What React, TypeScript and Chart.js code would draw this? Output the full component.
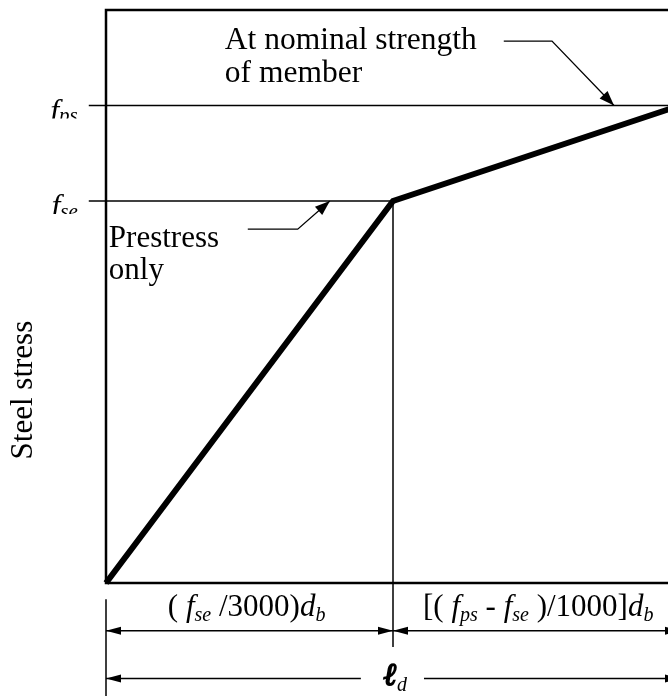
import React, { useEffect, useRef } from "react";
import { Chart, registerables } from "chart.js";

Chart.register(...registerables);

// ---- data (diagram units: x = embedment length share, y = steel stress) ----
const X_MAX = 100;
const Y_MAX = 120;
const F_SE = 80;
const F_PS = 100;
const STRESS_X = [0, 50, 100];
const STRESS_Y = [0, F_SE, F_PS];
const TICK_FROM = -3;
const Y_TICKS = [
  { value: F_PS, main: "f", sub: "ps" },
  { value: F_SE, main: "f", sub: "se" },
];
const DIM_ROW_1 = -10;
const DIM_ROW_2 = -20;
const EXT_LEFT = [-3.4, -25];
const EXT_MID_BOTTOM = -13.4;
const LD_GAP = [44.4, 55.4];
const NOTE_TOP_PATH_X = [69.3, 77.7, 88.5];
const NOTE_TOP_PATH_Y = [113.5, 113.5, F_PS];
const NOTE_LOW_PATH_X = [24.7, 33.4, 39.0];
const NOTE_LOW_PATH_Y = [74.1, 74.1, F_SE];
const NOTE_TOP_LINES = ["At nominal strength", "of member"];
const NOTE_TOP_POS = [20.7, 111.8];
const NOTE_LOW_LINES = ["Prestress", "only"];
const NOTE_LOW_POS = [0.5, 70.4];
const Y_TITLE = "Steel stress";
const Y_TITLE_POS = [-14.3, 40.4];
const DIM_LABEL_1_POS = [24.5, -6.9];
const DIM_LABEL_2_POS = [75.3, -6.9];
const LD_LABEL_POS = [50.4, -21.4];

const SERIF = '"Liberation Serif", "Times New Roman", serif';

type Seg = { t: string; i?: boolean; s?: boolean; b?: boolean };

const DIM_LABEL_1: Seg[] = [
  { t: "( " },
  { t: "f", i: true },
  { t: "se", i: true, s: true },
  { t: " /3000)" },
  { t: "d", i: true },
  { t: "b", i: true, s: true },
];
const DIM_LABEL_2: Seg[] = [
  { t: "[( " },
  { t: "f", i: true },
  { t: "ps", i: true, s: true },
  { t: " - " },
  { t: "f", i: true },
  { t: "se", i: true, s: true },
  { t: " )/1000]" },
  { t: "d", i: true },
  { t: "b", i: true, s: true },
];
const LD_LABEL: Seg[] = [
  { t: "\u2113", b: true, i: true },
  { t: "d", i: true, s: true },
];

const pts = (xs: number[], ys: number[]) => xs.map((x, k) => ({ x, y: ys[k] }));

function segFont(seg: Seg, size: number) {
  const sz = seg.s ? Math.round(size * 0.65) : size;
  return `${seg.i ? "italic " : ""}${seg.b ? "bold " : ""}${sz}px ${SERIF}`;
}

function drawRich(
  ctx: CanvasRenderingContext2D,
  segs: Seg[],
  x: number,
  y: number,
  size: number,
  align: "left" | "center" | "right",
  subShift = 0.16
) {
  ctx.textAlign = "left";
  ctx.textBaseline = "alphabetic";
  const widths = segs.map((seg) => {
    ctx.font = segFont(seg, size);
    return ctx.measureText(seg.t).width;
  });
  const total = widths.reduce((a, b) => a + b, 0);
  let cx = align === "center" ? x - total / 2 : align === "right" ? x - total : x;
  segs.forEach((seg, k) => {
    ctx.font = segFont(seg, size);
    const yy = y + (seg.s ? size * subShift : 0);
    ctx.fillText(seg.t, cx, yy);
    if (seg.b) {
      ctx.lineWidth = 1.6;
      ctx.strokeStyle = "#000";
      ctx.strokeText(seg.t, cx, yy);
    }
    cx += widths[k];
  });
}

function drawHead(ctx: CanvasRenderingContext2D, tx: number, ty: number, fx: number, fy: number, len: number, half: number) {
  const ang = Math.atan2(ty - fy, tx - fx);
  ctx.save();
  ctx.translate(tx, ty);
  ctx.rotate(ang);
  ctx.beginPath();
  ctx.moveTo(0, 0);
  ctx.lineTo(-len, -half);
  ctx.lineTo(-len, half);
  ctx.closePath();
  ctx.fill();
  ctx.restore();
}

// arrowheads: [tipX, tipY, fromX, fromY, length, halfWidth]
const HEADS: number[][] = [
  [0, DIM_ROW_1, 50, DIM_ROW_1, 15, 4],
  [50, DIM_ROW_1, 0, DIM_ROW_1, 15, 4],
  [50, DIM_ROW_1, 100, DIM_ROW_1, 15, 4],
  [100, DIM_ROW_1, 50, DIM_ROW_1, 15, 4],
  [0, DIM_ROW_2, 50, DIM_ROW_2, 15, 4],
  [100, DIM_ROW_2, 50, DIM_ROW_2, 15, 4],
  [NOTE_TOP_PATH_X[2], NOTE_TOP_PATH_Y[2], NOTE_TOP_PATH_X[1], NOTE_TOP_PATH_Y[1], 15, 5.5],
  [NOTE_LOW_PATH_X[2], NOTE_LOW_PATH_Y[2], NOTE_LOW_PATH_X[1], NOTE_LOW_PATH_Y[1], 15, 5.5],
];

const diagramPlugin = {
  id: "diagram",
  beforeDatasetsDraw(chart: any) {
    const { ctx, chartArea } = chart;
    ctx.save();
    ctx.strokeStyle = "#000";
    ctx.lineWidth = 2.5;
    ctx.strokeRect(chartArea.left, chartArea.top, chartArea.right - chartArea.left, chartArea.bottom - chartArea.top);
    ctx.restore();
  },
  afterDatasetsDraw(chart: any) {
    const { ctx, chartArea } = chart;
    const xs = chart.scales.x;
    const ys = chart.scales.y;
    const px = (v: number) => xs.getPixelForValue(v);
    const py = (v: number) => ys.getPixelForValue(v);
    ctx.save();
    ctx.fillStyle = "#000";

    HEADS.forEach(([tx, ty, fx, fy, len, half]) => {
      drawHead(ctx, px(tx), py(ty), px(fx), py(fy), len, half);
    });

    // y tick labels (clipped like the source)
    Y_TICKS.forEach((tk) => {
      const y = py(tk.value);
      ctx.save();
      ctx.beginPath();
      ctx.rect(0, y - 40, chartArea.left, 40 + 13);
      ctx.clip();
      drawRich(ctx, [{ t: tk.main, i: true }, { t: tk.sub, i: true, s: true }], px(TICK_FROM) - 11, y + 15, 32, "right", 0.06);
      ctx.restore();
    });

    // annotations
    ctx.font = `31.5px ${SERIF}`;
    ctx.textAlign = "left";
    ctx.textBaseline = "alphabetic";
    NOTE_TOP_LINES.forEach((ln, k) => ctx.fillText(ln, px(NOTE_TOP_POS[0]), py(NOTE_TOP_POS[1]) + k * 33));
    ctx.font = `31px ${SERIF}`;
    NOTE_LOW_LINES.forEach((ln, k) => ctx.fillText(ln, px(NOTE_LOW_POS[0]), py(NOTE_LOW_POS[1]) + k * 32));

    // dimension labels
    drawRich(ctx, DIM_LABEL_1, px(DIM_LABEL_1_POS[0]), py(DIM_LABEL_1_POS[1]), 31, "center");
    drawRich(ctx, DIM_LABEL_2, px(DIM_LABEL_2_POS[0]), py(DIM_LABEL_2_POS[1]), 31, "center");
    drawRich(ctx, LD_LABEL, px(LD_LABEL_POS[0]), py(LD_LABEL_POS[1]), 31, "center", 0.2);

    // y title
    ctx.save();
    ctx.translate(px(Y_TITLE_POS[0]), py(Y_TITLE_POS[1]));
    ctx.rotate(-Math.PI / 2);
    ctx.font = `31px ${SERIF}`;
    ctx.textAlign = "center";
    ctx.textBaseline = "middle";
    ctx.fillText(Y_TITLE, 0, 0);
    ctx.restore();

    ctx.restore();
  },
};

export default function App() {
  const ref = useRef<HTMLCanvasElement | null>(null);
  useEffect(() => {
    if (!ref.current) return;
    const thin = (data: any[], w = 1.5) => ({
      data,
      showLine: true,
      borderColor: "#000",
      borderWidth: w,
      pointRadius: 0,
      clip: false,
      spanGaps: false,
    });
    const chart = new Chart(ref.current, {
      type: "scatter",
      data: {
        datasets: [
          { ...thin(pts(STRESS_X, STRESS_Y), 6), borderJoinStyle: "miter" },
          thin([{ x: TICK_FROM, y: F_PS }, { x: X_MAX, y: F_PS }]),
          thin([{ x: TICK_FROM, y: F_SE }, { x: STRESS_X[1], y: F_SE }]),
          thin([{ x: STRESS_X[1], y: F_SE }, { x: STRESS_X[1], y: EXT_MID_BOTTOM }]),
          thin([{ x: 0, y: EXT_LEFT[0] }, { x: 0, y: EXT_LEFT[1] }]),
          thin([{ x: 0, y: DIM_ROW_1 }, { x: X_MAX, y: DIM_ROW_1 }]),
          thin([{ x: 0, y: DIM_ROW_2 }, { x: LD_GAP[0], y: DIM_ROW_2 }]),
          thin([{ x: LD_GAP[1], y: DIM_ROW_2 }, { x: X_MAX, y: DIM_ROW_2 }]),
          thin(pts(NOTE_TOP_PATH_X, NOTE_TOP_PATH_Y), 1.3),
          thin(pts(NOTE_LOW_PATH_X, NOTE_LOW_PATH_Y), 1.3),
        ] as any,
      },
      options: {
        responsive: false,
        animation: false,
        devicePixelRatio: 1,
        events: [],
        layout: { padding: { left: 106, top: 10, right: 20, bottom: 113 } },
        scales: {
          x: { type: "linear", min: 0, max: X_MAX, display: false },
          y: { type: "linear", min: 0, max: Y_MAX, display: false },
        },
        plugins: { legend: { display: false }, tooltip: { enabled: false } },
      },
      plugins: [diagramPlugin],
    } as any);
    return () => chart.destroy();
  }, []);
  return (
    <div style={{ position: "absolute", left: 0, top: 0, width: 668, height: 696, overflow: "hidden", background: "#fff" }}>
      <canvas ref={ref} width={700} height={696} style={{ display: "block", width: 700, height: 696 }} />
    </div>
  );
}
